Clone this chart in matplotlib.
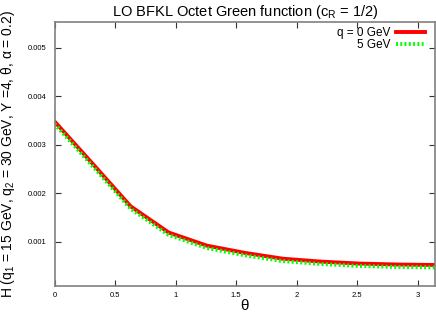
import numpy as np
import matplotlib
matplotlib.use("Agg")
import matplotlib.pyplot as plt

plt.rcParams['font.family'] = ['Liberation Sans', 'DejaVu Sans']

# theta grid: k*pi/10
theta = np.arange(11) * np.pi / 10
h_q0 = [0.00348, 0.00261, 0.00173, 0.00119, 0.00092, 0.00077,
        0.00065, 0.00059, 0.00055, 0.00053, 0.00052]
h_q5 = [0.00343, 0.00256, 0.00168, 0.00114, 0.00087, 0.00072,
        0.00060, 0.00054, 0.00050, 0.00048, 0.00047]
xticks = [0, 0.5, 1, 1.5, 2, 2.5, 3]
yticks = [0.001, 0.002, 0.003, 0.004, 0.005]

fig = plt.figure(figsize=(4.36, 3.13), dpi=100)
ax = fig.add_axes([54.5/436, 1 - 286/313, (435 - 54.5)/436, (286 - 22)/313])

ax.plot(theta, h_q0, color='#ff0000', lw=2.8, label='q = 0 GeV')
ax.plot(theta, h_q5, color='#00ff00', lw=2.8, ls=(0, (0.5, 0.6)), label='5 GeV',
        dash_capstyle='butt')

ax.set_xlim(0, np.pi)
ax.set_ylim(0.000087, 0.00553)
ax.set_xticks(xticks)
ax.set_xticklabels(['0', '0.5', '1', '1.5', '2', '2.5', '3'])
ax.set_yticks(yticks)
ax.set_yticklabels(['0.001', '0.002', '0.003', '0.004', '0.005'])
ax.tick_params(direction='in', top=True, right=True, length=4, width=0.8,
               labelsize=5.5, color='#333333')
ax.tick_params(axis='x', pad=4)
ax.tick_params(axis='y', pad=6)
for s in ax.spines.values():
    s.set_color('#808080')
    s.set_linewidth(1.2)

ax.set_title('LO BFKL Octet Green function (c$_\\mathregular{R}$ = 1/2)', fontsize=10.5, pad=4)
ax.set_xlabel('θ', fontsize=11, va='center')
ax.xaxis.set_label_coords(0.5, -(306 - 286) / 264)
ax.set_ylabel('H (q$_\\mathregular{1}$ = 15 GeV, q$_\\mathregular{2}$ = 30 GeV, Y =4, θ, α = 0.2)',
              fontsize=10, va='center')
ax.yaxis.set_label_coords(-(54.5 - 8) / 380.5, 0.5)

leg = ax.legend(loc='upper right', frameon=False, fontsize=8.5, markerfirst=False,
                handlelength=2.4, borderaxespad=0.0, labelspacing=0.0, handletextpad=0.5,
                bbox_to_anchor=(0.985, 1.0))
for t in leg.get_texts():
    t.set_ha('right')
leg._legend_box.align = 'right'

fig.savefig('out.png', dpi=100)
